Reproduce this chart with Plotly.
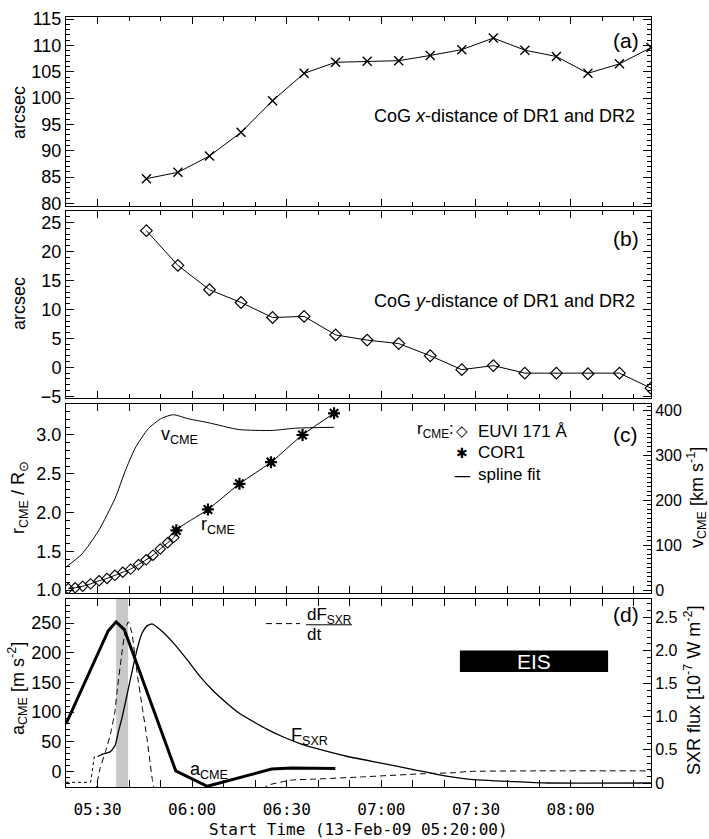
import numpy as np
import pandas as pd
import plotly.graph_objects as go

# ---------------------------------------------------------------------------
# Data (times are minutes after the start time 13-Feb-2009 05:20:00)
# ---------------------------------------------------------------------------
START = pd.Timestamp("2009-02-13 05:20:00")
END_MIN = 185.5

# (a) centre-of-gravity x-distance of DR1 and DR2
cog_t = [25.5 + 10 * k for k in range(17)]
cog_x = [84.7, 85.9, 89.0, 93.5, 99.5, 104.7, 106.8, 107.0, 107.1, 108.1,
         109.2, 111.4, 109.1, 107.9, 104.7, 106.5, 109.6]

# (b) centre-of-gravity y-distance of DR1 and DR2
cog_y = [23.6, 17.6, 13.4, 11.2, 8.6, 8.8, 5.6, 4.7, 4.1, 2.0,
         -0.4, 0.3, -1.0, -1.0, -1.1, -1.0, -3.6]

# (c) CME front height (EUVI 171 A and COR1) and velocity from the spline fit
euvi_t = [0.7, 2.9, 5.3, 7.8, 10.5, 13.0, 15.5, 18.0, 20.5, 23.0, 25.4, 27.6,
          29.9, 32.2, 34.2]
euvi_r = [1.02, 1.03, 1.05, 1.08, 1.12, 1.15, 1.19, 1.23, 1.27, 1.33, 1.39,
          1.45, 1.53, 1.61, 1.68]
cor1_t = [35, 45, 55, 65, 75, 85]
cor1_r = [1.77, 2.04, 2.37, 2.65, 3.00, 3.28]
vcme_t = [0, 5, 10.3, 15.6, 18.7, 21.9, 26.1, 30.3, 34, 38.8, 45.3, 54.8,
          65.4, 72.8, 85]
vcme_v = [51, 80, 132, 205, 264, 316, 360, 383, 391, 382, 373, 358, 356,
          361, 363]

# (d) CME acceleration, GOES SXR flux and its time derivative
acme_t = [0, 13.4, 15.9, 18.5, 34.8, 44.8, 65.2, 71.5, 85.4]
acme_a = [80, 237, 252, 239, 1, -25, 4, 6, 5]

dfdt_t = [9.3, 10.8, 12.5, 14.0, 15.5, 16.3, 17.5, 18.8, 19.8, 20.9, 22.5,
          24.1, 25.7, 27.3, 28.0, 35, 50, 60, 64.2, 71.6, 78.6, 94.7, 112.6,
          123.6, 127.4, 150, 185.5]
dfdt_v = [-35, 5, 33, 61, 100, 140, 190, 239, 252, 233, 167, 111, 55, -11,
          -30, -90, -70, -40, -23, -14.5, -13, -9, -4, -2, 0, 1, 1]

sxr_t = [10.0, 11.9, 14.0, 15.6, 16.6, 17.7, 19.3, 20.9, 22.5, 24.1, 25.7,
         27.3, 29.9, 34.1, 38.4, 42.6, 46.9, 51.1, 55.3, 59.6, 63.8, 69.1,
         74.4, 78.7, 89.3, 99.9, 110.5, 121.1, 127.4, 142.3, 152.9, 185.5]
sxr_f = [0.40, 0.44, 0.47, 0.57, 0.77, 0.97, 1.32, 1.67, 2.01, 2.26, 2.37,
         2.40, 2.31, 2.11, 1.86, 1.60, 1.38, 1.20, 1.04, 0.92, 0.81, 0.69,
         0.59, 0.53, 0.40, 0.30, 0.20, 0.10, 0.06, 0.02, 0.0, 0.0]
sxr_raw_t = [0, 7.8, 9.0, 10.0]
sxr_raw_f = [0.01, 0.01, 0.40, 0.40]

impulsive_phase = (15.9, 19.7)          # shaded interval
eis_window = (124.9, 171.9)             # EIS raster interval
sxr_ticks = [0, 0.5, 1.0, 1.5, 2.0, 2.5]
sxr_ticktext = ["0", "0.5", "1.0", "1.5", "2.0", "2.5"]

# legend of panel (c): key glyph and label per row
legend_rows = [("◇", "EUVI 171 Å"), ("✱", "COR1"), ("—", "spline fit")]


def at(minutes):
    """Convert minutes after the start time into timestamps."""
    return START + pd.to_timedelta(np.asarray(minutes, dtype=float), unit="min")


def at1(minutes):
    return (START + pd.Timedelta(minutes=minutes)).strftime("%Y-%m-%d %H:%M:%S")


# ---------------------------------------------------------------------------
# Figure
# ---------------------------------------------------------------------------
FONT = "Liberation Sans, Arial, Helvetica, sans-serif"
MONO = "DejaVu Sans Mono, Liberation Mono, monospace"
W, H = 709, 839
ML, MR, MT, MB = 66, 58, 9, 52
PH = H - MT - MB
PW = W - ML - MR


def dom(top_px, bottom_px):
    base = H - MB
    return [(base - bottom_px) / PH, (base - top_px) / PH]


fig = go.Figure()

# (a)
fig.add_trace(go.Scatter(
    x=at(cog_t), y=cog_x, mode="lines+markers", xaxis="x", yaxis="y",
    line=dict(color="black", width=1),
    marker=dict(symbol="x-thin-open", size=9, color="black",
                line=dict(width=1.4, color="black")),
    showlegend=False, cliponaxis=True))

# (b)
fig.add_trace(go.Scatter(
    x=at(cog_t), y=cog_y, mode="lines+markers", xaxis="x2", yaxis="y2",
    line=dict(color="black", width=1),
    marker=dict(symbol="diamond-open", size=9, color="black",
                line=dict(width=1.2, color="black")),
    showlegend=False, cliponaxis=True))

# (c) spline fit through all height measurements
fit_t = euvi_t + cor1_t
fit_r = euvi_r + cor1_r
fig.add_trace(go.Scatter(
    x=at(fit_t), y=fit_r, mode="lines", xaxis="x3", yaxis="y3",
    name="spline fit", line=dict(color="black", width=1, shape="spline",
                                 smoothing=0.8),
    showlegend=False))
fig.add_trace(go.Scatter(
    x=at(euvi_t), y=euvi_r, mode="markers", xaxis="x3", yaxis="y3",
    name="EUVI 171 Å",
    marker=dict(symbol="diamond-open", size=8, color="black",
                line=dict(width=1.1, color="black")),
    showlegend=False))
fig.add_trace(go.Scatter(
    x=at(cor1_t), y=cor1_r, mode="markers", xaxis="x3", yaxis="y3",
    name="COR1",
    marker=dict(symbol="asterisk-open", size=10, color="black",
                line=dict(width=2.2, color="black")),
    showlegend=False))
fig.add_trace(go.Scatter(
    x=at(vcme_t), y=vcme_v, mode="lines", xaxis="x3", yaxis="y4",
    line=dict(color="black", width=1, shape="spline", smoothing=0.6),
    showlegend=False))

# (d)
fig.add_trace(go.Scatter(
    x=at(sxr_raw_t), y=sxr_raw_f, mode="lines", xaxis="x4", yaxis="y6",
    line=dict(color="black", width=1, dash="dot"), showlegend=False))
fig.add_trace(go.Scatter(
    x=at(sxr_t), y=sxr_f, mode="lines", xaxis="x4", yaxis="y6",
    line=dict(color="black", width=1.3, shape="spline", smoothing=0.5),
    showlegend=False))
fig.add_trace(go.Scatter(
    x=at(dfdt_t), y=dfdt_v, mode="lines", xaxis="x4", yaxis="y5",
    line=dict(color="black", width=1, dash="6px,4px", shape="spline",
              smoothing=0.4),
    showlegend=False))
fig.add_trace(go.Scatter(
    x=at(acme_t), y=acme_a, mode="lines", xaxis="x4", yaxis="y5",
    line=dict(color="black", width=3), showlegend=False))

# ---------------------------------------------------------------------------
# Axes
# ---------------------------------------------------------------------------
xr = [at1(0), at1(END_MIN)]
xcommon = dict(
    type="date", range=xr, showline=True, linecolor="black", linewidth=1,
    mirror="allticks", ticks="inside", ticklen=7, tickwidth=1,
    tickcolor="black", showgrid=False, zeroline=False,
    tick0="2009-02-13 05:30:00", dtick=30 * 60 * 1000, tickformat="%H:%M",
    minor=dict(ticks="inside", ticklen=4, tickwidth=1, dtick=10 * 60 * 1000,
               tick0="2009-02-13 05:30:00", tickcolor="black", showgrid=False),
    fixedrange=True)

ycommon = dict(
    showline=True, linecolor="black", linewidth=1, ticks="inside", ticklen=8,
    tickwidth=1, tickcolor="black", showgrid=False, zeroline=False,
    tickfont=dict(family=FONT, size=18, color="black"), fixedrange=True)


def minor(step, start=0):
    return dict(ticks="inside", ticklen=4, tickwidth=1, dtick=step,
                tick0=start, tickcolor="black", showgrid=False)


fig.update_layout(
    xaxis=dict(xcommon, anchor="y", showticklabels=False, matches="x4"),
    xaxis2=dict(xcommon, anchor="y2", showticklabels=False, matches="x4"),
    xaxis3=dict(xcommon, anchor="y3", showticklabels=False, matches="x4"),
    xaxis4=dict(xcommon, anchor="y5", showticklabels=True,
                tickfont=dict(family=MONO, size=16, color="black"),
                ticklabelstandoff=8),
    yaxis=dict(ycommon, domain=dom(9, 200), anchor="x", range=[79.5, 115.4],
               tick0=80, dtick=5, mirror="allticks", minor=minor(1, 80)),
    yaxis2=dict(ycommon, domain=dom(205, 394), anchor="x2", range=[-5.3, 27.0],
                tick0=0, dtick=5, mirror="allticks", minor=minor(1)),
    yaxis3=dict(ycommon, domain=dom(400, 591), anchor="x3",
                range=[0.962, 3.40], tick0=1, dtick=0.5, tickformat=".1f",
                minor=minor(0.1, 1)),
    yaxis4=dict(ycommon, anchor="x3", overlaying="y3", side="right",
                range=[-6.6, 415], tick0=0, dtick=100,
                tickfont=dict(family=FONT, size=16, color="black"),
                minor=minor(10)),
    yaxis5=dict(ycommon, domain=dom(597, 787), anchor="x4",
                range=[-26.2, 290.5], tick0=0, dtick=50, minor=minor(10)),
    yaxis6=dict(ycommon, anchor="x4", overlaying="y5", side="right",
                range=[-0.06, 2.776], tickmode="array", tickvals=sxr_ticks,
                ticktext=sxr_ticktext,
                tickfont=dict(family=FONT, size=16, color="black"),
                minor=minor(0.1)),
)

# ---------------------------------------------------------------------------
# Shapes: impulsive-phase band, EIS window, legend stroke and fraction bar
# ---------------------------------------------------------------------------
fig.add_shape(type="rect", xref="x4", yref="y5 domain",
              x0=at1(impulsive_phase[0]), x1=at1(impulsive_phase[1]),
              y0=0, y1=1, fillcolor="#c8c8c8", line=dict(width=0),
              layer="below")
fig.add_shape(type="rect", xref="x4", yref="y6",
              x0=at1(eis_window[0]), x1=at1(eis_window[1]),
              y0=1.675, y1=2.0, fillcolor="black", line=dict(width=0))
fig.add_shape(type="line", xref="x4", yref="y5",
              x0=at1(63.4), x1=at1(74.2), y0=249, y1=249,
              line=dict(color="black", width=1, dash="6px,4px"))
fig.add_shape(type="line", xref="x4", yref="y5",
              x0=at1(76.1), x1=at1(90.7), y0=247, y1=247,
              line=dict(color="black", width=1))


# ---------------------------------------------------------------------------
# Text
# ---------------------------------------------------------------------------
def txt(text, x, y, xref, yref, size=18, xanchor="center", yanchor="middle",
        angle=0, color="black", family=FONT):
    fig.add_annotation(text=text, x=x, y=y, xref=xref, yref=yref,
                       showarrow=False, xanchor=xanchor, yanchor=yanchor,
                       textangle=angle, borderpad=0,
                       font=dict(family=family, size=size, color=color))


# panel tags and descriptions
txt("(a)", at1(177.5), 110.86, "x", "y", size=21)
txt("CoG <i>x</i>-distance of DR1 and DR2", at1(180.7), 96.6, "x", "y",
    xanchor="right")
txt("(b)", at1(177.5), 22.2, "x2", "y2", size=21)
txt("CoG <i>y</i>-distance of DR1 and DR2", at1(180.7), 11.5, "x2", "y2",
    xanchor="right")
txt("(c)", at1(177.5), 3.01, "x3", "y3", size=21)
txt("v<sub>CME</sub>", at1(29.8), 2.99, "x3", "y3", size=18, xanchor="left")
txt("r<sub>CME</sub>", at1(42.5), 1.83, "x3", "y3", size=18, xanchor="left")

# legend of panel (c)
txt("r<sub>CME</sub>:", at1(123.3), 3.058, "x3", "y3", size=17,
    xanchor="right")
legend_y = [3.051, 2.771, 2.490]
key_sizes = [15, 14, 17]
for (key, label), ly, ks in zip(legend_rows, legend_y, key_sizes):
    txt(key, at1(125.6), ly, "x3", "y3", size=ks,
        family="DejaVu Sans, " + FONT)
    txt(label, at1(130.3), ly, "x3", "y3", size=17, xanchor="left")

txt("(d)", at1(177.5), 263.8, "x4", "y5", size=21)
txt("dF<sub>SXR</sub>", at1(76.1), 261, "x4", "y5", size=17, xanchor="left")
txt("dt", at1(76.1), 231, "x4", "y5", size=17, xanchor="left")
txt("F<sub>SXR</sub>", at1(71.0), 58.8, "x4", "y5", size=18, xanchor="left")
txt("a<sub>CME</sub>", at1(39.0), 2, "x4", "y5", size=18, xanchor="left")
txt("EIS", at1(sum(eis_window) / 2), 1.84, "x4", "y6", size=21,
    color="white")

# axis titles
px = lambda v: (v - ML) / PW
py = lambda v: (H - MB - v) / PH
txt("arcsec", px(19), py(106), "paper", "paper", size=18, angle=-90)
txt("arcsec", px(19), py(299), "paper", "paper", size=18, angle=-90)
txt("r<sub>CME</sub> / R<sub>⊙</sub>", px(19), py(495), "paper", "paper",
    size=18, angle=-90)
txt("a<sub>CME</sub> [m s<sup>-2</sup>]", px(17), py(688), "paper", "paper",
    size=18, angle=-90)
txt("v<sub>CME</sub> [km s<sup>-1</sup>]", px(696), py(495), "paper",
    "paper", size=18, angle=-90)
txt("SXR flux [10<sup>-7</sup> W m<sup>-2</sup>]", px(693), py(690),
    "paper", "paper", size=18, angle=-90)
txt("Start Time (13-Feb-09 05:20:00)", 0.5, py(830), "paper", "paper",
    size=16, family=MONO)

fig.update_layout(
    width=W, height=H, margin=dict(l=ML, r=MR, t=MT, b=MB),
    paper_bgcolor="white", plot_bgcolor="white",
    font=dict(family=FONT, size=17, color="black"),
    showlegend=False,
)

fig.write_html("out.html")
